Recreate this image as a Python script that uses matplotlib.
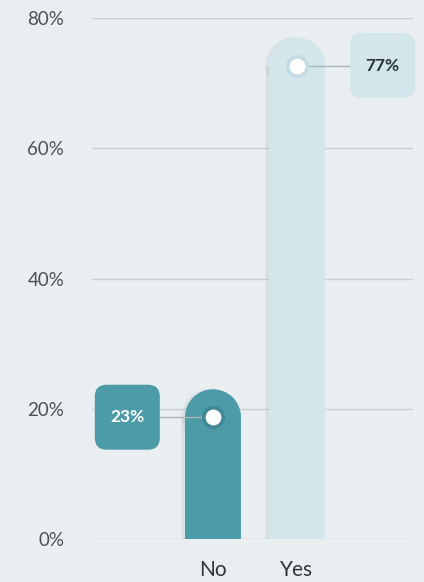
import matplotlib
matplotlib.use("Agg")
import matplotlib.pyplot as plt
import matplotlib.transforms as mtransforms
from matplotlib.patches import Rectangle, Ellipse, FancyBboxPatch

categories = ["No", "Yes"]
values = [23, 77]
value_labels = ["23%", "77%"]
y_ticks = [0, 20, 40, 60, 80]
y_tick_labels = ["0%", "20%", "40%", "60%", "80%"]

BG = "#e9eef0"
GRID = "#c9d0d3"
BAR_COLORS = ["#4d9ba8", "#d2e6ec"]
RING_COLORS = ["#3f8894", "#c3dbe2"]
BOX_TEXT = ["white", "#2a3236"]
CONNECT = "#aab6ba"

plt.rcParams["font.family"] = ["Lato", "DejaVu Sans"]

W, H = 424, 582
fig = plt.figure(figsize=(W / 100, H / 100), dpi=100, facecolor=BG)
# axes box in pixels: x 92..413, y 18..539 (from top)
ax = fig.add_axes([92 / W, (H - 539) / H, (413 - 92) / W, (539 - 18) / H])
ax.set_facecolor(BG)

# 1 x-unit = 84 px, bar centres at 0 and 1
ax.set_xlim((92 - 213) / 84, (413 - 213) / 84)
ax.set_ylim(0, 80)
for s in ax.spines.values():
    s.set_visible(False)
ax.set_yticks(y_ticks)
ax.set_yticklabels(y_tick_labels, fontsize=13.5, color="#4a5256")
ax.set_xticks(range(len(categories)))
ax.set_xticklabels(categories, fontsize=15, color="#2f373b")
ax.tick_params(axis="y", length=0, pad=20)
ax.tick_params(axis="x", length=0, pad=15)
ax.grid(axis="y", color=GRID, lw=1)
ax.set_axisbelow(True)

fig.canvas.draw()
ax_h_px = ax.get_window_extent().height
px_per_y = ax_h_px / 80.0
px_per_x = 84.0

bar_w = 56 / px_per_x
r_y = 28 / px_per_y
box_off = 1.02
box_px = 65

for i, (cat, v) in enumerate(zip(categories, values)):
    cy = v - r_y
    # soft shadow
    for k, a in [(0.05, 0.08), (0.03, 0.1)]:
        ax.add_patch(Rectangle((i - bar_w / 2 - k, 0), bar_w, cy, color="#8fa3a9",
                               alpha=a, lw=0, zorder=2))
        ax.add_patch(Ellipse((i - k, cy), bar_w, 2 * r_y, color="#8fa3a9",
                             alpha=a, lw=0, zorder=2))
    ax.add_patch(Rectangle((i - bar_w / 2, 0), bar_w, cy, color=BAR_COLORS[i],
                           lw=0, zorder=3))
    ax.add_patch(Ellipse((i, cy), bar_w, 2 * r_y, color=BAR_COLORS[i],
                         lw=0, zorder=3))

    # label box beside the bar
    bx = i - box_off if i == 0 else i + box_off
    edge = bx + (box_px / 2) / px_per_x * (1 if i == 0 else -1)
    ax.plot([edge, i], [cy, cy], color=CONNECT, lw=1, zorder=4, clip_on=False)
    ax.plot(i, cy, "o", ms=14, mfc="white", mec=RING_COLORS[i], mew=2.6,
            zorder=5)

    trans = mtransforms.Affine2D().translate(*ax.transData.transform((bx, cy)))
    box = FancyBboxPatch((-box_px / 2, -box_px / 2), box_px, box_px,
                         boxstyle="round,pad=0,rounding_size=12",
                         fc=BAR_COLORS[i], ec="none", transform=trans,
                         zorder=6, clip_on=False)
    ax.add_artist(box)
    ax.text(bx, cy, value_labels[i], ha="center", va="center", fontsize=12.5,
            fontweight="bold", color=BOX_TEXT[i], zorder=7, clip_on=False)

fig.savefig("out.png", dpi=100, facecolor=BG)
